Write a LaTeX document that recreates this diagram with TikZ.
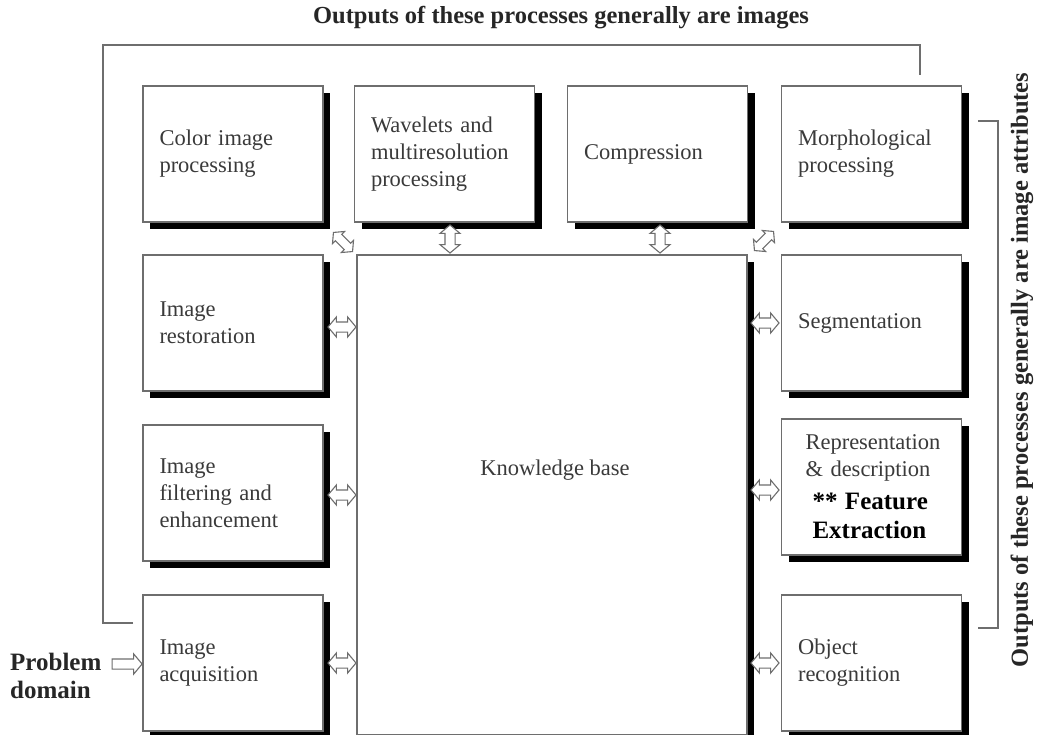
\documentclass[tikz,border=0pt]{standalone}
\usepackage{fontspec}
\setmainfont{Liberation Serif}
\usetikzlibrary{shapes.arrows,shadows}
\definecolor{boxgray}{HTML}{6E6E6E}
\definecolor{txt}{HTML}{3A3A3A}
\begin{document}
\begin{tikzpicture}[x=1pt,y=-1pt,
  box/.style={draw=boxgray, line width=1.4pt, fill=white, text=txt,
    align=left, font=\fontsize{22.5}{27}\selectfont,
    minimum width=180pt, minimum height=136pt, text width=147pt,
    inner xsep=16.5pt, inner ysep=0pt,
    general shadow={shadow xshift=7pt, shadow yshift=-7pt, fill=black}},
  dbl/.style={double arrow, draw=boxgray, line width=1.1pt, fill=white,
    minimum height=28pt, inner xsep=0pt, inner ysep=4.5pt,
    double arrow head extend=5pt, double arrow tip angle=100},
  sgl/.style={single arrow, draw=boxgray, line width=1.1pt, fill=white,
    minimum height=30pt, inner xsep=0pt, inner ysep=4.5pt,
    single arrow head extend=5pt, single arrow tip angle=100},
  bracket/.style={draw=boxgray, line width=1.3pt},
  title/.style={font=\bfseries\fontsize{24.5}{28}\selectfont, text=black!85}
]
\useasboundingbox (0,0) rectangle (1038,735);
\fill[white] (0,0) rectangle (1038,735);

% top row
\node[box] (color) at (233,154) {Color image\\processing};
\node[box] (wave) at (444.5,154) {Wavelets and\\multiresolution\\processing};
\node[box] (comp) at (657.5,154) {Compression};
\node[box] (morph) at (871.5,154) {Morphological\\processing};
% left column
\node[box] (rest) at (233,323) {Image\\restoration};
\node[box] (filt) at (233,493) {Image\\filtering and\\enhancement};
\node[box] (acq) at (233,663) {Image\\acquisition};
% right column
\node[box] (seg) at (871.5,323) {Segmentation};
\node[box, inner xsep=0pt, text width=180pt] (repr) at (871.5,487) {\hspace*{24pt}Representation\\\hspace*{24pt}\& description\\[6pt]
  \hspace*{31pt}{\color{black}\bfseries\fontsize{25}{31}\selectfont ** Feature}\\[2pt]
  \hspace*{31pt}{\color{black}\bfseries\fontsize{25}{31}\selectfont Extraction}};
\node[box] (obj) at (871.5,663) {Object\\recognition};
% knowledge base
\node[box, minimum width=390pt, minimum height=480pt, text width=300pt] (kb) at (552,495) {};
\node[font=\fontsize{22.5}{27}\selectfont, text=txt] (kbt) at (555,470) {Knowledge base};

% arrows
\node[dbl, rotate=90] (a1) at (450,239) {};
\node[dbl, rotate=90] (a2) at (660,239) {};
\node[dbl, rotate=-45, minimum height=27pt, inner ysep=4pt, double arrow head extend=4pt] (a3) at (343,242) {};
\node[dbl, rotate=45, minimum height=27pt, inner ysep=4pt, double arrow head extend=4pt] (a4) at (764,241) {};
\node[dbl] (l1) at (342,327) {};
\node[dbl] (l2) at (342,495) {};
\node[dbl] (l3) at (342,663) {};
\node[dbl] (r1) at (765,323) {};
\node[dbl] (r2) at (765,490) {};
\node[dbl] (r3) at (765,663) {};

% problem domain
\node[font=\bfseries\fontsize{25}{28}\selectfont, text=black!85, align=left, anchor=west, inner sep=0pt] (pd) at (10,676) {Problem\\domain};
\node[sgl] (pa) at (125,664) {};

% brackets
\coordinate (b1) at (133,623);
\coordinate (b2) at (103,623);
\coordinate (b3) at (103,45);
\coordinate (b4) at (920,45);
\coordinate (b5) at (920,75);
\draw[bracket] (b1) -- (b2) -- (b3) -- (b4) -- (b5);
\coordinate (c1) at (978,121);
\coordinate (c2) at (998,121);
\coordinate (c3) at (998,628);
\coordinate (c4) at (978,628);
\draw[bracket] (c1) -- (c2) -- (c3) -- (c4);

\node[title] (t1) at (561,18) {Outputs of these processes generally are images};
\node[title, rotate=90] (t2) at (1022,370) {Outputs of these processes generally are image attributes};
\end{tikzpicture}
\end{document}
